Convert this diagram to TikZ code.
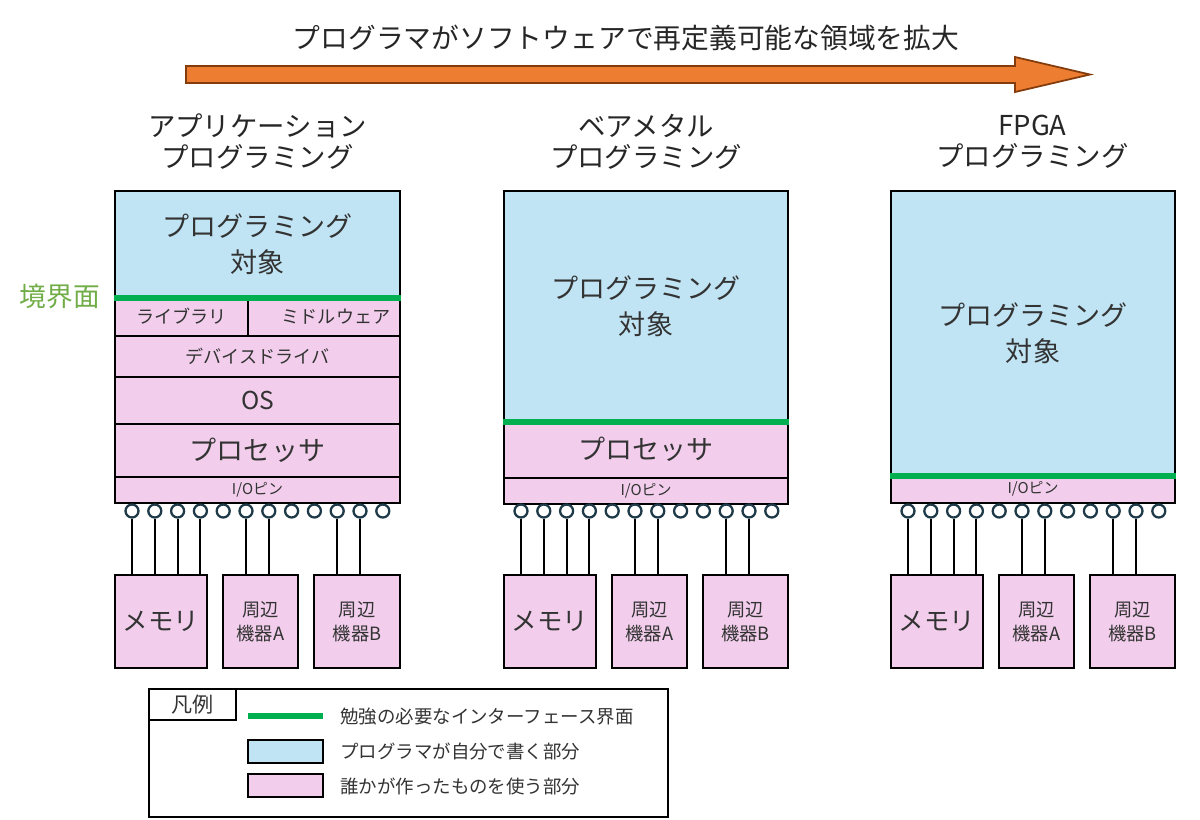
\documentclass[tikz,border=0pt]{standalone}
\usepackage{fontspec}
\setmainfont{Noto Sans CJK JP}
\definecolor{progblue}{HTML}{C0E4F4}
\definecolor{usepink}{HTML}{F2CEEC}
\definecolor{ifgreen}{HTML}{00B050}
\definecolor{arroworange}{HTML}{ED7D31}
\definecolor{arrowedge}{HTML}{843C0C}
\definecolor{pinedge}{HTML}{1E3A48}
\definecolor{txt}{HTML}{333333}
\definecolor{lbl}{HTML}{70AD47}
% \mkbox{style}{name}{x1}{y1}{x2}{y2}{text}  (pixel coordinates)
\newcommand\mkbox[7]{%
  \pgfmathsetmacro\mkbw{abs((#5)-(#3))*0.02}%
  \pgfmathsetmacro\mkbh{abs((#6)-(#4))*0.02}%
  \pgfmathsetmacro\mkcx{((#3)+(#5))/2}%
  \pgfmathsetmacro\mkcy{((#4)+(#6))/2}%
  \node[#1, minimum width=\mkbw cm, minimum height=\mkbh cm] (#2) at (\mkcx,\mkcy) {#7};%
}
\begin{document}
\begin{tikzpicture}[x=0.02cm,y=-0.02cm,
  layer/.style={draw=black, line width=1pt, inner sep=0pt, text=txt, align=center},
  own/.style={layer, fill=progblue},
  used/.style={layer, fill=usepink},
  iface/.style={draw=ifgreen, line width=3.6pt},
  pinc/.style={circle, draw=pinedge, fill=white, line width=1.3pt, minimum size=0.26cm, inner sep=0pt},
  wire/.style={draw=black, line width=1.1pt},
  bigtxt/.style={font=\fontsize{15.4}{20.5}\selectfont},
  midtxt/.style={font=\fontsize{10.4}{13.7}\selectfont},
  smalltxt/.style={font=\fontsize{10.3}{13}\selectfont},
  tinytxt/.style={font=\fontsize{8.5}{10}\selectfont},
  ostxt/.style={font=\fontsize{14}{16}\selectfont},
  memtxt/.style={font=\fontsize{14.5}{17}\selectfont},
  headtxt/.style={font=\fontsize{15.6}{17.6}\selectfont, text=black!85, align=center},
  legtxt/.style={font=\fontsize{10.5}{13}\selectfont, text=txt, anchor=west, inner sep=0pt},
]
\useasboundingbox (0,0) rectangle (1200,819);

% title and arrow
\node[font=\fontsize{15.8}{18}\selectfont, text=black!85] (title) at (626,38) {プログラマがソフトウェアで再定義可能な領域を拡大};
\draw[fill=arroworange, draw=arrowedge, line width=1pt]
  (186,66) -- (1015,66) -- (1015,57) -- (1090,74.5) -- (1015,92) -- (1015,83) -- (186,83) -- cycle;

% section headings
\node[headtxt] (h1) at (257.5,142) {アプリケーション\\プログラミング};
\node[headtxt] (h2) at (646,142) {ベアメタル\\プログラミング};
\node[headtxt] (h3) at (1032.5,142) {FPGA\\プログラミング};

\node[font=\fontsize{15.2}{17}\selectfont, text=lbl] (kyokai) at (60,296) {境界面};

% ---------- stack 1 ----------
\mkbox{own, bigtxt}{o1}{115}{191}{400}{297}{プログラミング\\対象}
\mkbox{used, smalltxt}{lib1}{115}{297}{248}{336}{ライブラリ}
\mkbox{used, smalltxt}{mid1}{248}{297}{400}{336}{\hspace*{0.48cm}ミドルウェア}
\mkbox{used, smalltxt}{dd1}{115}{336}{400}{377}{デバイスドライバ}
\mkbox{used, ostxt}{os1}{115}{377}{400}{424}{OS}
\mkbox{used, bigtxt}{pr1}{115}{424}{400}{477}{プロセッサ}
\mkbox{used, tinytxt}{io1}{115}{477}{400}{503}{I/Oピン}
\draw[iface] (o1.south west) -- (o1.south east);

% ---------- stack 2 ----------
\mkbox{own, bigtxt}{o2}{504}{191}{788}{421}{プログラミング\\対象}
\mkbox{used, bigtxt}{pr2}{504}{421}{788}{478}{プロセッサ}
\mkbox{used, tinytxt}{io2}{504}{478}{788}{504}{I/Oピン}
\draw[iface] (o2.south west) -- (o2.south east);

% ---------- stack 3 ----------
\mkbox{own, bigtxt}{o3}{891}{191}{1175}{475}{プログラミング\\対象}
\mkbox{used, tinytxt}{io3}{891}{475}{1175}{503}{I/Oピン}
\draw[iface] (o3.south west) -- (o3.south east);

% ---------- devices, pins, wires ----------
\foreach \s/\L/\R in {1/115/400, 2/504/788, 3/891/1175} {
  \mkbox{used, memtxt}{m\s}{\L}{575}{\L+92}{668}{メモリ}
  \mkbox{used, midtxt}{a\s}{\L+108}{575}{\L+183}{668}{周辺\\機器A}
  \mkbox{used, midtxt}{b\s}{\L+199}{575}{\R}{668}{周辺\\機器B}
  \foreach \i in {0,...,11} {
    \node[pinc] (p\s-\i) at (\L+17+22.8*\i,511) {};
  }
  \foreach \i in {0,1,2,3} { \draw[wire] (p\s-\i) -- (p\s-\i |- m\s.north); }
  \foreach \i in {5,6} { \draw[wire] (p\s-\i) -- (p\s-\i |- a\s.north); }
  \foreach \i in {9,10} { \draw[wire] (p\s-\i) -- (p\s-\i |- b\s.north); }
}

% ---------- legend ----------
\mkbox{draw=black, line width=1pt, inner sep=0pt}{leg}{149}{689}{668}{817}{}
\mkbox{draw=black, line width=1pt, inner sep=0pt, fill=white, text=txt, font=\fontsize{12}{14}\selectfont}{tab}{149}{689}{236}{720}{凡例}
\mkbox{fill=ifgreen, inner sep=0pt}{sw1}{248}{713}{323}{719}{}
\mkbox{own}{sw2}{248}{740}{323}{763}{}
\mkbox{used}{sw3}{248}{774}{323}{797}{}
\node[legtxt] (t1) at (340,717) {勉強の必要なインターフェース界面};
\node[legtxt] (t2) at (340,751) {プログラマが自分で書く部分};
\node[legtxt] (t3) at (340,786) {誰かが作ったものを使う部分};
\end{tikzpicture}
\end{document}
